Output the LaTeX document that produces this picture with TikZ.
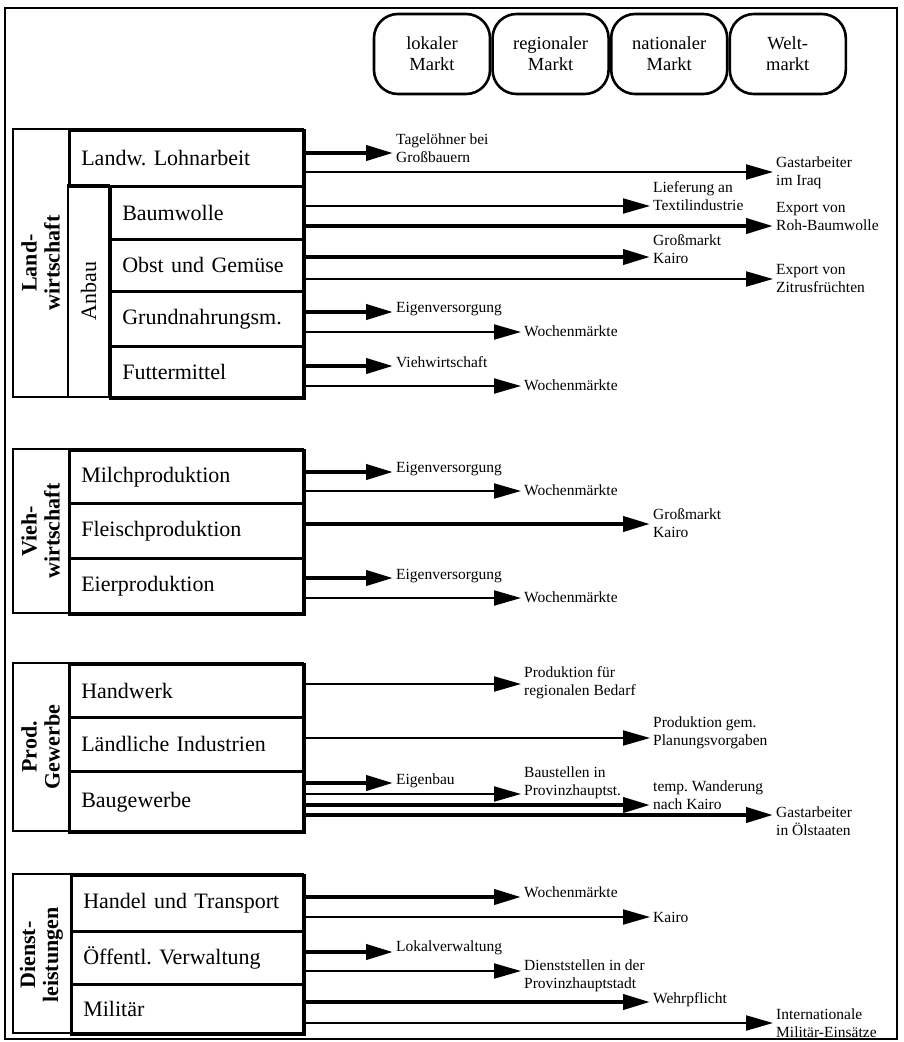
\documentclass[tikz,border=0pt]{standalone}
\usepackage{fontspec}
\setmainfont{Liberation Serif}
\usetikzlibrary{arrows.meta,positioning}

\tikzset{
	frame/.style={line width=2pt},
	box/.style={draw,line width=2.6pt},
	cell/.style={draw,line width=2.6pt,anchor=north west,align=left,
		inner xsep=12pt,font=\fontsize{22}{24}\selectfont},
	cat/.style={rotate=90,align=center,font=\bfseries\fontsize{22}{23}\selectfont},
	markt/.style={draw,line width=2.6pt,rounded corners=24pt,minimum width=116pt,
		minimum height=80pt,align=center,font=\fontsize{18.5}{21}\selectfont},
	lab/.style={anchor=west,align=left,inner xsep=3pt,inner ysep=0pt,
		font=\fontsize{15.5}{18}\selectfont},
	thk/.style={line width=4pt,-{Triangle[length=27pt,width=15pt]}},
	thn/.style={line width=2pt,-{Triangle[length=27pt,width=15pt]}},
}

\begin{document}
\frenchspacing
\begin{tikzpicture}[x=1pt,y=-1pt]
	\useasboundingbox (0,0) rectangle (903,1042);
	\draw[frame] (5,8) rectangle (897,1039);
	
	% Maerkte
	\node[markt] (lokal) at (432,54) {lokaler\\Markt};
	\node[markt,right=0pt of lokal] (regional) {regionaler\\Markt};
	\node[markt,right=0pt of regional] (national) {nationaler\\Markt};
	\node[markt,right=0pt of national] (welt) {Welt-\\markt};
	
	% ================================================ Landwirtschaft
	\draw[box] (13,129) rectangle (303,397);
	\draw[box] (68,185) rectangle (109,397);
	\node[cat] (landw) at (40.5,263) {Land-\\wirtschaft};
	\node[rotate=90,font=\fontsize{22}{24}\selectfont] (anbau) at (88.5,291) {Anbau};
	\node[cell,text width=211pt,minimum height=56pt] (lohn) at (68,129) {Landw. Lohnarbeit};
	\node[cell,text width=170pt,minimum height=53pt] (baum) at (109,185) {Baumwolle};
	\node[cell,text width=170pt,minimum height=52pt] (obst) at (109,238) {Obst und Gemüse};
	\node[cell,text width=170pt,minimum height=55pt] (grund) at (109,290) {Grundnahrungsm.};
	\node[cell,text width=170pt,minimum height=52pt] (futter) at (109,345) {Futtermittel};
	
	\node[lab] (tagel) at (393,148) {Tagelöhner bei\\Großbauern};
	\node[lab] (iraq) at (773,173) {Gastarbeiter\\im Iraq};
	\node[lab] (textil) at (650,196) {Lieferung an\\Textilindustrie};
	\node[lab] (rohbw) at (773,216) {Export von\\Roh-Baumwolle};
	\node[lab] (gkairo1) at (650,249) {Großmarkt\\Kairo};
	\node[lab] (zitrus) at (773,278) {Export von\\Zitrusfrüchten};
	\node[lab] (eigen1) at (393,309) {Eigenversorgung};
	\node[lab] (woche1) at (521,331) {Wochenmärkte};
	\node[lab] (viehw) at (393,362) {Viehwirtschaft};
	\node[lab] (woche2) at (521,385) {Wochenmärkte};
	
	\draw[thk] (lohn.east |- 0,153) -- (tagel.west |- 0,153);
	\draw[thn] (lohn.east |- 0,172) -- (iraq.west |- 0,172);
	\draw[thn] (baum.east |- 0,206) -- (textil.west |- 0,206);
	\draw[thk] (baum.east |- 0,226) -- (rohbw.west |- 0,226);
	\draw[thk] (obst.east |- 0,257) -- (gkairo1.west |- 0,257);
	\draw[thn] (obst.east |- 0,279) -- (zitrus.west |- 0,279);
	\draw[thk] (grund.east |- 0,312) -- (eigen1.west |- 0,312);
	\draw[thn] (grund.east |- 0,332) -- (woche1.west |- 0,332);
	\draw[thk] (futter.east |- 0,366) -- (viehw.west |- 0,366);
	\draw[thn] (futter.east |- 0,386) -- (woche2.west |- 0,386);
	
	% ================================================ Viehwirtschaft
	\draw[box] (13,449) rectangle (303,613);
	\node[cat] (viehlab) at (40.5,531) {Vieh-\\wirtschaft};
	\node[cell,text width=211pt,minimum height=53pt] (milch) at (68,449) {Milchproduktion};
	\node[cell,text width=211pt,minimum height=55pt] (fleisch) at (68,502) {Fleischproduktion};
	\node[cell,text width=211pt,minimum height=56pt] (eier) at (68,557) {Eierproduktion};
	
	\node[lab] (eigen2) at (393,469) {Eigenversorgung};
	\node[lab] (woche3) at (521,490) {Wochenmärkte};
	\node[lab] (gkairo2) at (650,523) {Großmarkt\\Kairo};
	\node[lab] (eigen3) at (393,576) {Eigenversorgung};
	\node[lab] (woche4) at (521,597) {Wochenmärkte};
	
	\draw[thk] (milch.east |- 0,472) -- (eigen2.west |- 0,472);
	\draw[thn] (milch.east |- 0,491) -- (woche3.west |- 0,491);
	\draw[thk] (fleisch.east |- 0,524) -- (gkairo2.west |- 0,524);
	\draw[thk] (eier.east |- 0,578) -- (eigen3.west |- 0,578);
	\draw[thn] (eier.east |- 0,598) -- (woche4.west |- 0,598);
	
	% ================================================ Prod. Gewerbe
	\draw[box] (13,663) rectangle (303,831);
	\node[cat] (prodlab) at (40.5,747) {Prod.\\Gewerbe};
	\node[cell,text width=211pt,minimum height=53pt] (handw) at (68,663) {Handwerk};
	\node[cell,text width=211pt,minimum height=54pt] (laendl) at (68,716) {Ländliche Industrien};
	\node[cell,text width=211pt,minimum height=61pt] (bau) at (68,770) {Baugewerbe};
	
	\node[lab] (regbed) at (521,683) {Produktion für\\regionalen Bedarf};
	\node[lab] (planung) at (650,733) {Produktion gem.\\Planungsvorgaben};
	\node[lab] (eigenbau) at (393,781) {Eigenbau};
	\node[lab] (baustel) at (521,783) {Baustellen in\\Provinzhauptst.};
	\node[lab] (wander) at (650,795) {temp. Wanderung\\nach Kairo};
	\node[lab] (oelst) at (773,821) {Gastarbeiter\\in Ölstaaten};
	
	\draw[thn] (handw.east |- 0,684) -- (regbed.west |- 0,684);
	\draw[thn] (laendl.east |- 0,738) -- (planung.west |- 0,738);
	\draw[thk] (bau.east |- 0,783) -- (eigenbau.west |- 0,783);
	\draw[thn] (bau.east |- 0,794) -- (baustel.west |- 0,794);
	\draw[thk] (bau.east |- 0,805) -- (wander.west |- 0,805);
	\draw[thk] (bau.east |- 0,815) -- (oelst.west |- 0,815);
	
	% ================================================ Dienstleistungen
	\draw[box] (13,874) rectangle (303,1033);
	\node[cat] (dienstlab) at (41.5,955) {Dienst-\\leistungen};
	\node[cell,text width=209pt,minimum height=56pt] (handel) at (70,874) {Handel und Transport};
	\node[cell,text width=209pt,minimum height=53pt] (oeff) at (70,930) {Öffentl. Verwaltung};
	\node[cell,text width=209pt,minimum height=50pt] (milit) at (70,983) {Militär};
	
	\node[lab] (woche5) at (521,892) {Wochenmärkte};
	\node[lab] (kairo) at (650,917) {Kairo};
	\node[lab] (lokalv) at (393,948) {Lokalverwaltung};
	\node[lab] (dienstst) at (521,976) {Dienststellen in der\\Provinzhauptstadt};
	\node[lab] (wehr) at (650,1000) {Wehrpflicht};
	\node[lab] (intmil) at (773,1023) {Internationale\\Militär-Einsätze};
	
	\draw[thk] (handel.east |- 0,897) -- (woche5.west |- 0,897);
	\draw[thn] (handel.east |- 0,917) -- (kairo.west |- 0,917);
	\draw[thk] (oeff.east |- 0,952) -- (lokalv.west |- 0,952);
	\draw[thn] (oeff.east |- 0,971) -- (dienstst.west |- 0,971);
	\draw[thk] (milit.east |- 0,1002) -- (wehr.west |- 0,1002);
	\draw[thn] (milit.east |- 0,1023) -- (intmil.west |- 0,1023);
	
\end{tikzpicture}
\end{document}
